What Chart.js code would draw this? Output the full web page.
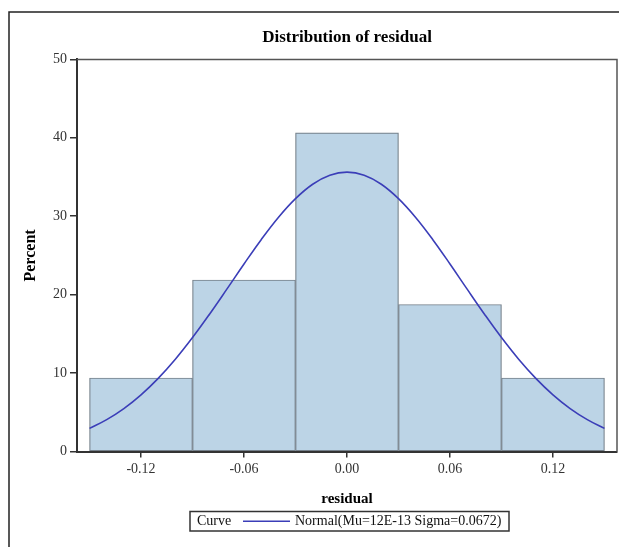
<!DOCTYPE html>
<html>
<head>
<meta charset="utf-8">
<script src="https://cdn.jsdelivr.net/npm/chart.js@4/dist/chart.umd.min.js"></script>
<style>
  html, body { margin: 0; padding: 0; background: #fff; }
  #wrap { width: 619px; height: 547px; position: relative; }
</style>
</head>
<body>
<div id="wrap"><canvas id="c" width="619" height="547"></canvas></div>
<script>
// Histogram bins (midpoints) and their percentages
const binCenters = [-0.12, -0.06, 0.00, 0.06, 0.12];
const binPercents = [9.375, 21.875, 40.625, 18.75, 9.375];

// Fitted normal curve, in percent per bin width
const curveX = [-0.15, -0.14, -0.13, -0.12, -0.11, -0.10, -0.09, -0.08, -0.07, -0.06, -0.05,
                -0.04, -0.03, -0.02, -0.01, 0.00, 0.01, 0.02, 0.03, 0.04, 0.05,
                0.06, 0.07, 0.08, 0.09, 0.10, 0.11, 0.12, 0.13, 0.14, 0.15];
const curveY = [2.95, 4.07, 5.48, 7.23, 9.33, 11.77, 14.53, 17.54, 20.70, 23.91, 27.01,
                29.84, 32.24, 34.08, 35.23, 35.62, 35.23, 34.08, 32.24, 29.84, 27.01,
                23.91, 20.70, 17.54, 14.53, 11.77, 9.33, 7.23, 5.48, 4.07, 2.95];

// Axis ticks
const xTickValues = [-0.12, -0.06, 0.00, 0.06, 0.12];
const yTickValues = [0, 10, 20, 30, 40, 50];

const chartTitle = 'Distribution of residual';
const legendTitle = 'Curve';
const legendLabel = 'Normal(Mu=12E-13 Sigma=0.0672)';

const serif = "'Liberation Serif', 'DejaVu Serif', serif";
const curveColor = '#3b3eb8';

const framePlugin = {
  id: 'frame',
  afterDraw(chart) {
    const ctx = chart.ctx;
    const a = chart.chartArea;
    ctx.save();

    // title, centred over the plot box
    ctx.fillStyle = '#000';
    ctx.font = "bold 17px " + serif;
    ctx.textAlign = 'center';
    ctx.textBaseline = 'middle';
    ctx.fillText(chartTitle, (a.left + a.right) / 2, 38);

    // top and right edges of the plot box
    ctx.strokeStyle = '#555';
    ctx.lineWidth = 1.5;
    ctx.beginPath();
    ctx.moveTo(a.left, a.top);
    ctx.lineTo(a.right, a.top);
    ctx.lineTo(a.right, a.bottom);
    ctx.stroke();

    // outer graph border
    ctx.strokeStyle = '#222';
    ctx.lineWidth = 1.5;
    ctx.beginPath();
    ctx.moveTo(9, 547);
    ctx.lineTo(9, 12);
    ctx.lineTo(619, 12);
    ctx.stroke();

    // legend box
    const bx = 190, by = 511.5, bw = 319, bh = 19.5;
    ctx.fillStyle = '#fff';
    ctx.fillRect(bx, by, bw, bh);
    ctx.strokeStyle = '#333';
    ctx.lineWidth = 1.5;
    ctx.strokeRect(bx, by, bw, bh);
    const cy = by + bh / 2 + 0.5;
    ctx.fillStyle = '#111';
    ctx.font = "14px " + serif;
    ctx.textBaseline = 'middle';
    ctx.textAlign = 'left';
    ctx.fillText(legendTitle, bx + 7, cy);
    ctx.strokeStyle = curveColor;
    ctx.lineWidth = 1.6;
    ctx.beginPath();
    ctx.moveTo(243, cy - 0.5);
    ctx.lineTo(290, cy - 0.5);
    ctx.stroke();
    ctx.fillText(legendLabel, 295, cy);
    ctx.restore();
  }
};

new Chart(document.getElementById('c'), {
  type: 'bar',
  data: {
    datasets: [
      {
        type: 'line',
        order: 1,
        data: curveX.map((x, i) => ({ x: x, y: curveY[i] })),
        borderColor: curveColor,
        borderWidth: 1.6,
        pointRadius: 0,
        fill: false,
        tension: 0.4
      },
      {
        type: 'bar',
        order: 2,
        data: binCenters.map((x, i) => ({ x: x, y: binPercents[i] })),
        backgroundColor: '#bcd4e6',
        borderColor: '#75808a',
        borderWidth: 1.2,
        borderSkipped: false,
        barPercentage: 1,
        categoryPercentage: 1
      }
    ]
  },
  options: {
    responsive: false,
    animation: false,
    devicePixelRatio: 1,
    layout: { padding: { left: 0, right: 2, top: 59.4, bottom: 0 } },
    plugins: {
      legend: { display: false },
      tooltip: { enabled: false },
      title: { display: false }
    },
    scales: {
      x: {
        type: 'linear',
        offset: false,
        min: -0.1573,
        max: 0.1573,
        afterBuildTicks: s => { s.ticks = xTickValues.map(v => ({ value: v })); },
        afterFit: s => { s.height = 95.5; },
        ticks: {
          callback: v => Number(v).toFixed(2),
          color: '#333',
          font: { family: serif, size: 14 },
          padding: 3,
          maxRotation: 0,
          autoSkip: false
        },
        grid: { display: true, offset: false, drawOnChartArea: false, drawTicks: true, tickLength: 6, color: '#333', lineWidth: 1.5 },
        border: { display: true, color: '#333', width: 2 },
        title: {
          display: true,
          text: 'residual',
          color: '#000',
          font: { family: serif, size: 15, weight: 'bold' },
          padding: { top: 0, bottom: 39 }
        }
      },
      y: {
        type: 'linear',
        min: 0,
        max: 50,
        afterBuildTicks: s => { s.ticks = yTickValues.map(v => ({ value: v })); },
        afterFit: s => { s.width = 77; },
        ticks: {
          color: '#333',
          font: { family: serif, size: 14 },
          padding: 3
        },
        grid: { display: true, drawOnChartArea: false, drawTicks: true, tickLength: 7, color: '#333', lineWidth: 1.5 },
        border: { display: true, color: '#333', width: 2 },
        title: {
          display: true,
          text: 'Percent',
          color: '#000',
          font: { family: serif, size: 16, weight: 'bold' },
          padding: { top: 21, bottom: 0 }
        }
      }
    }
  },
  plugins: [framePlugin]
});
</script>
</body>
</html>
